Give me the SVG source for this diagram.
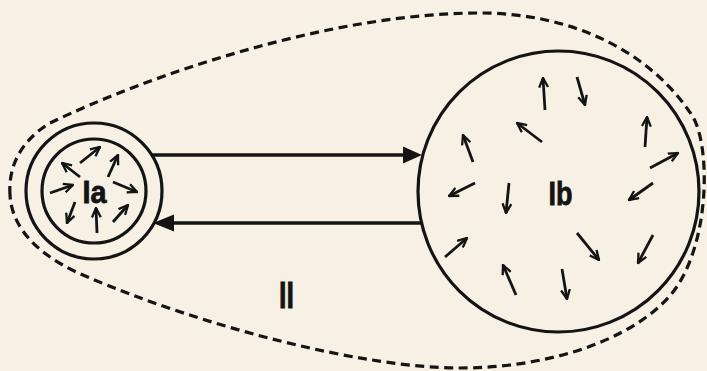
<svg xmlns="http://www.w3.org/2000/svg" width="707" height="371" viewBox="0 0 707 371">
<defs>
<style>
.bg{fill:#f6f1e4}
.ring{fill:none;stroke:#141414;stroke-width:3.2}
.dash{fill:none;stroke:#141414;stroke-width:3.2;stroke-dasharray:9 5.5}
.conn{stroke:#141414;stroke-width:3.6;fill:none}
.head{fill:#141414}
.sm{stroke:#141414;stroke-width:2.8;fill:none;marker-end:url(#barb)}
.lbl{font-family:"Liberation Sans Narrow","Liberation Sans",Arial,sans-serif;font-weight:bold;fill:#141414;stroke:#141414;stroke-width:0.8;text-anchor:middle}
</style>
<marker id="barb" viewBox="0 0 10 10" refX="9" refY="5" markerWidth="11" markerHeight="11" markerUnits="userSpaceOnUse" orient="auto">
<path d="M0.5,1 L9,5 L0.5,9" fill="none" stroke="#141414" stroke-width="2.1"/>
</marker>
</defs>
<rect class="bg" x="0" y="0" width="707" height="371"/>

<g id="region-II">
<path class="dash" d="M10,195 C8,165 22,140 50,123 C150,75 330,13 480,13 C570,13 650,50 693,117 C712,150 710,260 663,303 C620,345 540,368 460,368 C360,368 200,325 90,278 C50,262 12,235 10,195 Z"/>
<text class="lbl" x="286.5" y="308" font-size="36" textLength="15" lengthAdjust="spacingAndGlyphs">II</text>
</g>

<g id="node-Ia">
<circle class="ring" cx="94" cy="191" r="68"/>
<circle class="ring" cx="94" cy="191" r="52"/>
<text class="lbl" x="94.5" y="203" font-size="32" textLength="24" lengthAdjust="spacingAndGlyphs">Ia</text>
<g>
<line class="sm" x1="80" y1="177" x2="62" y2="163"/>
<line class="sm" x1="80" y1="163" x2="100" y2="147"/>
<line class="sm" x1="108" y1="177" x2="118" y2="155"/>
<line class="sm" x1="113" y1="182" x2="137" y2="192"/>
<line class="sm" x1="50" y1="193" x2="73" y2="185"/>
<line class="sm" x1="75" y1="202" x2="67" y2="223"/>
<line class="sm" x1="97" y1="233" x2="96" y2="208"/>
<line class="sm" x1="113" y1="222" x2="128" y2="205"/>
</g>
</g>

<g id="node-Ib">
<circle class="ring" cx="558.5" cy="191.5" r="140.5"/>
<text class="lbl" x="560.5" y="205" font-size="34" textLength="24" lengthAdjust="spacingAndGlyphs">Ib</text>
<g>
<line class="sm" x1="545" y1="110" x2="543" y2="78"/>
<line class="sm" x1="577" y1="77" x2="585" y2="105"/>
<line class="sm" x1="542" y1="142" x2="517" y2="123"/>
<line class="sm" x1="645" y1="147" x2="647" y2="117"/>
<line class="sm" x1="473" y1="162" x2="463" y2="135"/>
<line class="sm" x1="650" y1="168" x2="678" y2="153"/>
<line class="sm" x1="475" y1="183" x2="449" y2="196"/>
<line class="sm" x1="509" y1="183" x2="506" y2="213"/>
<line class="sm" x1="653" y1="183" x2="629" y2="200"/>
<line class="sm" x1="445" y1="257" x2="467" y2="238"/>
<line class="sm" x1="577" y1="233" x2="599" y2="260"/>
<line class="sm" x1="653" y1="235" x2="638" y2="263"/>
<line class="sm" x1="516" y1="295" x2="503" y2="265"/>
<line class="sm" x1="562" y1="269" x2="567" y2="299"/>
</g>
</g>

<g id="connectors">
<line class="conn" x1="152" y1="155" x2="405" y2="155"/>
<polygon class="head" points="422,155 403,146.5 403,163.5"/>
<line class="conn" x1="422" y1="223" x2="172" y2="223"/>
<polygon class="head" points="153,223 174,214.5 174,231.5"/>
</g>
</svg>
